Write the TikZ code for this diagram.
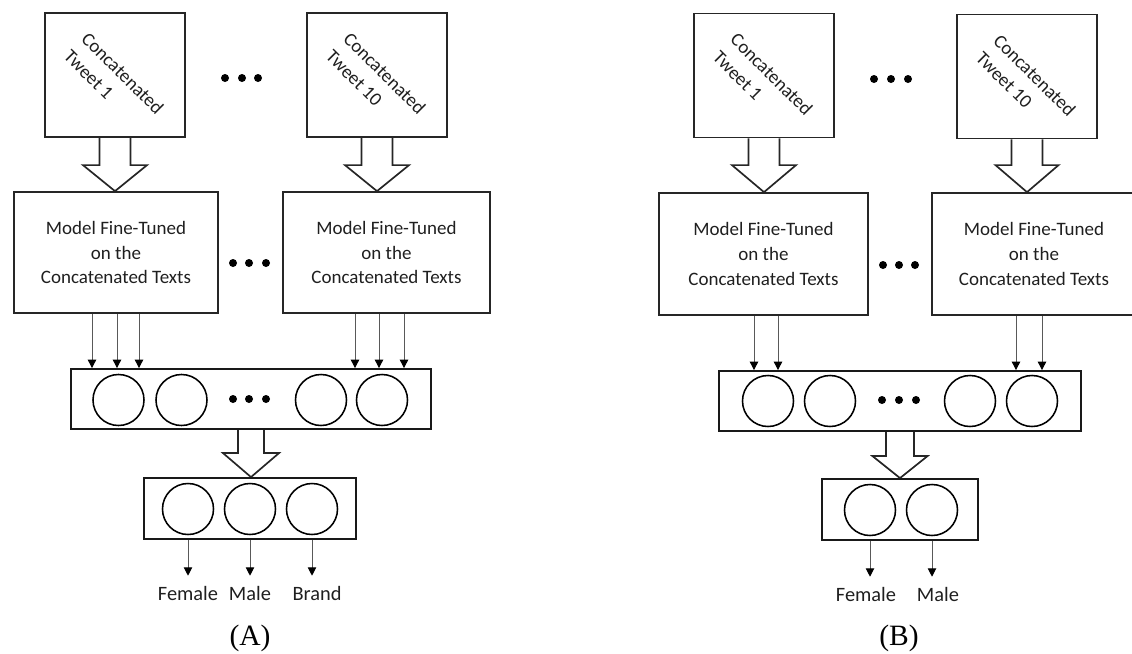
\documentclass[tikz,border=0pt]{standalone}
\usepackage{fontspec}
\setmainfont{Carlito}
\newfontfamily\capfont{Liberation Serif}
\usetikzlibrary{arrows.meta, positioning, calc, backgrounds}

% hollow block arrow from the bottom of #1 to the top of #2
\newcommand{\fatarrow}[5]{%
  \path (#1.south |- #2.north) coordinate (tip);
  \draw[fat] ($(#1.south)+(-#3,0)$) -- ($(tip)+(-#3,-#5)$) -- ($(tip)+(-#4,-#5)$) -- (tip)
    -- ($(tip)+(#4,-#5)$) -- ($(tip)+(#3,-#5)$) -- ($(#1.south)+(#3,0)$);}

\begin{document}
\begin{tikzpicture}[
        x=0.025cm, y=-0.025cm,
        >={Triangle[length=6pt,width=6pt,color=black]},
        every node/.style={font=\fontsize{13.5}{17.7}\selectfont, text=black!88},
        tw/.style={draw=black!85, line width=1.2pt, minimum width=3.5cm, minimum height=3.1cm},
        rot/.style={rotate=-45, align=left, inner sep=0pt},
        mdl/.style={draw=black!85, line width=1.2pt, minimum width=5.1cm, minimum height=3.025cm, align=center},
        lay/.style={draw=black!90, line width=1.3pt, minimum height=1.5cm},
        neu/.style={draw=black, circle, line width=1.1pt, minimum size=1.275cm, inner sep=0pt},
        fat/.style={draw=black!85, line width=1.2pt, fill=white},
        sm/.style={->, draw=black!65, line width=0.7pt},
        lbl/.style={font=\fontsize{14.5}{17}\selectfont, anchor=base, inner ysep=7pt},
        captxt/.style={font=\capfont\fontsize{21}{25}\selectfont, text=black},
    ]
    \useasboundingbox (0,0) rectangle (1132,653);

    % ── Panel A: tweet inputs ──
    \node[tw] (twA1) at (115,75) {};
    \node[tw] (twA2) at (377,75) {};
    \node[rot] (txA1) at (114,82) {Concatenated\\Tweet 1};
    \node[rot] (txA2) at (376,82) {Concatenated\\Tweet 10};
    \foreach \x in {225,242,258} \fill[black] (\x,78) circle (0.1cm);

    % ── Panel A: fine-tuned models ──
    \node[mdl] (mdA1) at (116,252.5) {Model Fine-Tuned\\on the\\Concatenated Texts};
    \node[mdl, minimum width=5.175cm] (mdA2) at (386.5,252.5) {Model Fine-Tuned\\on the\\Concatenated Texts};
    \foreach \x in {233,249,266} \fill[black] (\x,263) circle (0.1cm);

    % ── Panel A: hidden layer ──
    \node[lay, minimum width=9cm] (hidA) at (251,399) {};
    \node[neu] (hA1) at (118.5,400) {};
    \node[neu] (hA2) at (181.5,400) {};
    \node[neu] (hA3) at (321,400) {};
    \node[neu] (hA4) at (382,400) {};
    \foreach \x in {233,249,266} \fill[black] (\x,399) circle (0.1cm);

    % ── Panel A: output layer ──
    \node[lay, minimum width=5.3cm, minimum height=1.525cm] (outA) at (250,508.5) {};
    \node[neu] (oA1) at (188,509) {};
    \node[neu] (oA2) at (250,509) {};
    \node[neu] (oA3) at (312,509) {};
    \node[lbl] (fA) at (188,600) {Female};
    \node[lbl] (mA) at (250,600) {Male};
    \node[lbl] (bA) at (317,600) {Brand};
    \node[captxt] (capA) at (250,638) {(A)};

    % ── Panel B: tweet inputs ──
    \node[tw] (twB1) at (764,75.5) {};
    \node[tw] (twB2) at (1027,76.5) {};
    \node[rot] (txB1) at (763,83) {Concatenated\\Tweet 1};
    \node[rot] (txB2) at (1026,84) {Concatenated\\Tweet 10};
    \foreach \x in {874,891,908} \fill[black] (\x,79) circle (0.1cm);

    % ── Panel B: fine-tuned models ──
    \node[mdl, minimum width=5.225cm, minimum height=3.05cm] (mdB1) at (763.5,254) {Model Fine-Tuned\\on the\\Concatenated Texts};
    \node[mdl, minimum height=3.05cm] (mdB2) at (1034,254) {Model Fine-Tuned\\on the\\Concatenated Texts};
    \foreach \x in {883,899,915} \fill[black] (\x,265) circle (0.1cm);

    % ── Panel B: hidden layer ──
    \node[lay, minimum width=9.05cm] (hidB) at (900,401) {};
    \node[neu] (hB1) at (768,401) {};
    \node[neu] (hB2) at (830,401) {};
    \node[neu] (hB3) at (970,401) {};
    \node[neu] (hB4) at (1032,401) {};
    \foreach \x in {882,899,916} \fill[black] (\x,400) circle (0.1cm);

    % ── Panel B: output layer ──
    \node[lay, minimum width=3.9cm, minimum height=1.525cm] (outB) at (900,509.5) {};
    \node[neu] (oB1) at (870,510) {};
    \node[neu] (oB2) at (932,510) {};
    \node[lbl] (fB) at (866,601) {Female};
    \node[lbl] (mB) at (938,601) {Male};
    \node[captxt] (capB) at (899,638) {(B)};

    % ── Arrows: models → hidden layers ──
    \foreach \x in {92,117,139} \draw[sm] (mdA1.south -| \x,0) -- (hidA.north -| \x,0);
    \foreach \x in {355,379,404} \draw[sm] (mdA2.south -| \x,0) -- (hidA.north -| \x,0);
    \foreach \x in {754,778} \draw[sm] (mdB1.south -| \x,0) -- (hidB.north -| \x,0);
    \foreach \x in {1016,1042} \draw[sm] (mdB2.south -| \x,0) -- (hidB.north -| \x,0);

    % ── Arrows: outputs → classes ──
    \draw[sm] (outA.south -| oA1) -- (fA.north -| oA1);
    \draw[sm] (outA.south -| oA2) -- (mA.north -| oA2);
    \draw[sm] (outA.south -| oA3) -- (bA.north -| oA3);
    \draw[sm] (outB.south -| oB1) -- (fB.north -| oB1);
    \draw[sm] (outB.south -| oB2) -- (mB.north -| oB2);

    % ── Block arrows ──
    \begin{scope}[on background layer]
        \fatarrow{twA1}{mdA1}{15.5}{32}{26}
        \fatarrow{twA2}{mdA2}{15.5}{32}{26}
        \fatarrow{hidA}{outA}{13}{28}{24}
        \fatarrow{twB1}{mdB1}{15.5}{32}{27}
        \fatarrow{twB2}{mdB2}{15.5}{31.5}{27}
        \fatarrow{hidB}{outB}{14}{27.5}{22}
    \end{scope}

\end{tikzpicture}
\end{document}
